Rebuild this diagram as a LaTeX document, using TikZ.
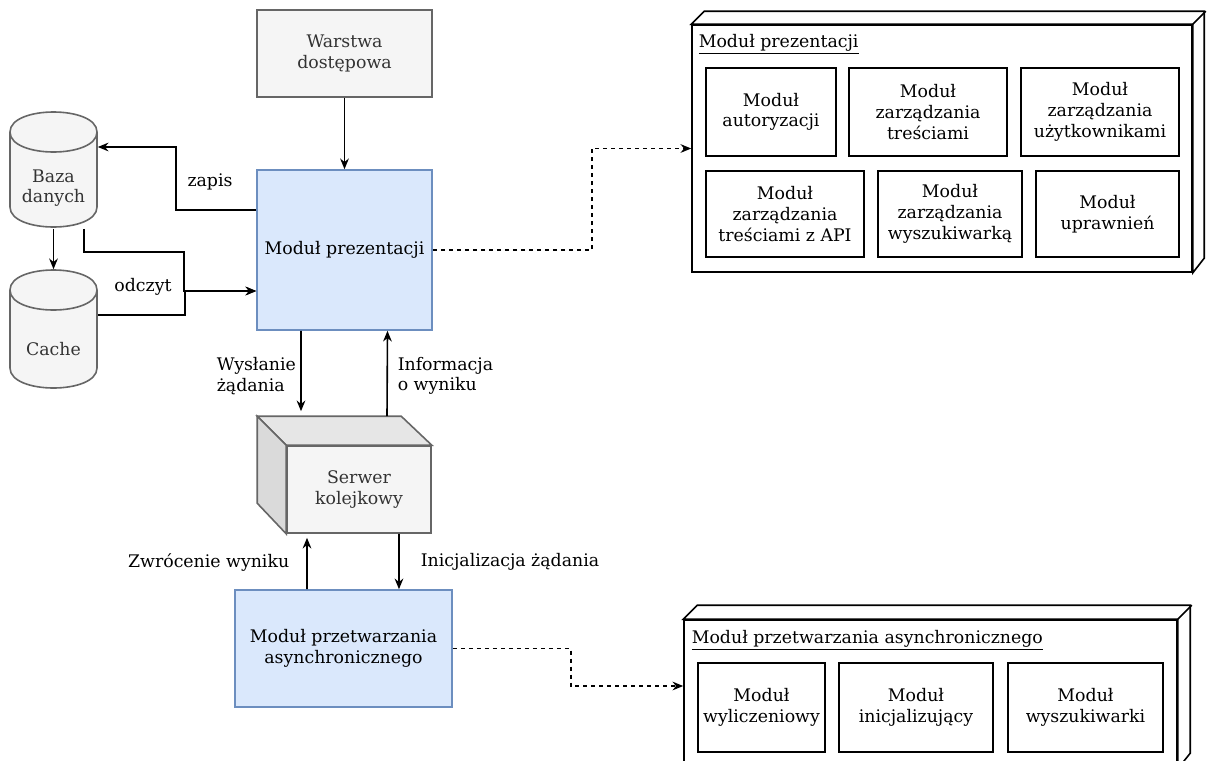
\documentclass[tikz,border=0pt]{standalone}
\usepackage{fontspec}
\setmainfont{DejaVu Serif}
\usetikzlibrary{arrows.meta}
\definecolor{grayfill}{HTML}{F5F5F5}
\definecolor{grayline}{HTML}{666666}
\definecolor{graytext}{HTML}{333333}
\definecolor{topgray}{HTML}{E6E6E6}
\definecolor{sidegray}{HTML}{DADADA}
\definecolor{bluefill}{HTML}{DAE8FC}
\definecolor{blueline}{HTML}{6C8EBF}
\begin{document}
\begin{tikzpicture}[x=0.75pt, y=-0.75pt, line width=1.2pt,
    font=\fontsize{13}{15.5}\selectfont,
    sz/.style 2 args={minimum width=#1*0.75pt, minimum height=#2*0.75pt, inner sep=0pt, align=center},
    gbox/.style={draw=grayline, fill=grayfill, text=graytext},
    bbox/.style={draw=blueline, fill=bluefill},
    wbox/.style={draw=black, fill=white},
    cyl/.style={draw=grayline, fill=grayfill},
    lbl/.style={align=left, inner sep=0pt},
    arr/.style={-{Stealth[length=8pt,width=6.5pt]}},
    dsh/.style={arr, dash pattern=on 3pt off 3pt}]

    \useasboundingbox (0,0) rectangle (1209,760);

    % left side: storage
    \draw[cyl] (10,132) .. controls (10,105.33) and (97,105.33) .. (97,132) -- (97,207)
        .. controls (97,233.67) and (10,233.67) .. (10,207) -- cycle;
    \draw[grayline] (10,132) .. controls (10,158.67) and (97,158.67) .. (97,132);
    \node[sz={87}{80}, text=graytext] (baza) at (53.5,188) {Baza\\danych};

    \draw[cyl] (10,290) .. controls (10,263.33) and (97,263.33) .. (97,290) -- (97,368)
        .. controls (97,394.67) and (10,394.67) .. (10,368) -- cycle;
    \draw[grayline] (10,290) .. controls (10,316.67) and (97,316.67) .. (97,290);
    \node[sz={87}{78}, text=graytext] (cache) at (53.5,349) {Cache};

    % middle column
    \node[sz={175}{87}, gbox] (warstwa) at (344.5,53.5) {Warstwa\\dostępowa};
    \node[sz={175}{160}, bbox] (prez) at (344.5,250) {Moduł prezentacji};
    \node[sz={144}{87}, gbox] (serwer) at (359,489.5) {Serwer\\kolejkowy};
    \draw[draw=grayline, fill=topgray] (serwer.north west) -- ++(-29,-29) -- ++(144,0)
        -- (serwer.north east) -- cycle;
    \draw[draw=grayline, fill=sidegray] (serwer.north west) -- ++(-29,-29) -- ++(0,87)
        -- (serwer.south west) -- cycle;
    \node[sz={217}{117}, bbox] (async) at (343.5,648.5) {Moduł przetwarzania\\asynchronicznego};

    % right side: module groups
    \node[sz={500}{247}, wbox] (grupaA) at (942,148.5) {};
    \draw[fill=white] (grupaA.north west) -- ++(13,-13) -- ++(500,0) -- ++(0,247)
        -- (grupaA.south east) -- (grupaA.north east) -- cycle;
    \draw (grupaA.north east) -- ++(13,-13);
    \node[lbl, anchor=west] (tytulA) at (698,44) {\underline{Moduł prezentacji}};
    \node[sz={130}{88}, wbox] (aut) at (771,112) {Moduł\\autoryzacji};
    \node[sz={158}{88}, wbox] (tre) at (928,112) {Moduł\\zarządzania\\treściami};
    \node[sz={158}{88}, wbox] (uzy) at (1100,112) {Moduł\\zarządzania\\użytkownikami};
    \node[sz={158}{86}, wbox] (api) at (785,214) {Moduł\\zarządzania\\treściami z API};
    \node[sz={144}{86}, wbox] (wys) at (950,214) {Moduł\\zarządzania\\wyszukiwarką};
    \node[sz={143}{86}, wbox] (upr) at (1107.5,214) {Moduł\\uprawnień};

    \node[sz={493}{148}, wbox] (grupaB) at (930.5,694) {};
    \draw[fill=white] (grupaB.north west) -- ++(14,-14) -- ++(493,0) -- ++(0,148)
        -- (grupaB.south east) -- (grupaB.north east) -- cycle;
    \draw (grupaB.north east) -- ++(14,-14);
    \node[lbl, anchor=west] (tytulB) at (691,640) {\underline{Moduł przetwarzania asynchronicznego}};
    \node[sz={127}{89}, wbox] (wyl) at (761.5,707.5) {Moduł\\wyliczeniowy};
    \node[sz={154}{89}, wbox] (ini) at (916,707.5) {Moduł\\inicjalizujący};
    \node[sz={155}{89}, wbox] (wyk) at (1085.5,707.5) {Moduł\\wyszukiwarki};

    % connectors
    \draw[arr] (warstwa) -- (prez);
    \draw[arr] ([yshift=30pt]prez.west) -- ++(-80,0) |- ([yshift=30.75pt]baza.east);
    \draw[arr] (baza.south) -- ([yshift=30pt]cache.north);
    \draw[arr] ([xshift=22.9pt]baza.south) -- ++(0,23) -- ++(100,0) |- ([yshift=-30.75pt]prez.west);
    \draw[arr] ([yshift=25.5pt]cache.east) -- ++(87,0) |- ([yshift=-30.75pt]prez.west);
    \draw[arr] ([xshift=-32.6pt]prez.south) -- ([xshift=-43.5pt, yshift=25.5pt]serwer.north);
    \draw[arr] ([xshift=21pt, yshift=21.75pt]serwer.north) -- ([xshift=32.25pt]prez.south);
    \draw[arr] ([xshift=-27.4pt]async.north) -- ([xshift=-39pt, yshift=-3pt]serwer.south);
    \draw[arr] ([xshift=30pt]serwer.south) -- ([xshift=41.6pt]async.north);
    \draw[dsh] (prez.east) -- ++(159,0) |- (grupaA.west);
    \draw[dsh] (async.east) -- ++(118,0) |- ([yshift=6pt]grupaB.west);

    % labels
    \node[lbl] (zapis) at (210,182) {zapis};
    \node[lbl] (odczyt) at (143,287) {odczyt};
    \node[lbl, anchor=west] (wyslanie) at (216,376) {Wysłanie\\żądania};
    \node[lbl, anchor=west] (informacja) at (397,376) {Informacja\\o wyniku};
    \node[lbl, anchor=east] (zwrocenie) at (290,562) {Zwrócenie wyniku};
    \node[lbl, anchor=west] (inicjalizacja) at (420,562) {Inicjalizacja żądania};
%    \node at (600,20) {};

\end{tikzpicture}
\end{document}
